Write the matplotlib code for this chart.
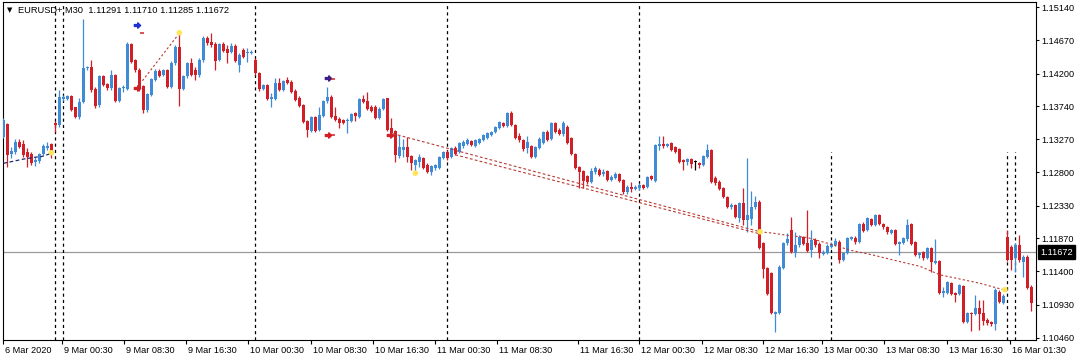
import numpy as np
import matplotlib.pyplot as plt
from matplotlib.path import Path
from matplotlib.transforms import ScaledTranslation

plt.rcParams['font.family'] = ['Liberation Sans', 'DejaVu Sans']

# EURUSD M30 bars (bar 0 = 6 Mar afternoon)
opens = [
    1.1330, 1.1349, 1.1306, 1.1309, 1.1323, 1.1320, 1.1309, 1.1306, 1.1295, 1.1296,
    1.1306, 1.1315, 1.1320, 1.1350, 1.1347, 1.1384, 1.1384, 1.1388, 1.1373, 1.1359,
    1.1380, 1.1428, 1.1429, 1.1398, 1.1376, 1.1417, 1.1405, 1.1400, 1.1418, 1.1381,
    1.1400, 1.1398, 1.1462, 1.1439, 1.1425, 1.1403, 1.1368, 1.1390, 1.1411, 1.1424,
    1.1418, 1.1425, 1.1401, 1.1435, 1.1458, 1.1398, 1.1417, 1.1435, 1.1425, 1.1418,
    1.1439, 1.1470, 1.1465, 1.1462, 1.1439, 1.1462, 1.1455, 1.1451, 1.1459, 1.1432,
    1.1453, 1.1449, 1.1449, 1.1439, 1.1421, 1.1398, 1.1404, 1.1384, 1.1384, 1.1407,
    1.1397, 1.1411, 1.1408, 1.1395, 1.1386, 1.1376, 1.1353, 1.1339, 1.1359, 1.1340,
    1.1360, 1.1381, 1.1387, 1.1360, 1.1356, 1.1354, 1.1353, 1.1353, 1.1364, 1.1359,
    1.1384, 1.1381, 1.1373, 1.1373, 1.1357, 1.1370, 1.1386, 1.1343, 1.1339, 1.1303,
    1.1312, 1.1316, 1.1303, 1.1291, 1.1295, 1.1300, 1.1291, 1.1281, 1.1286, 1.1286,
    1.1300, 1.1309, 1.1302, 1.1315, 1.1309, 1.1317, 1.1320, 1.1325, 1.1317, 1.1322,
    1.1326, 1.1329, 1.1333, 1.1337, 1.1343, 1.1350, 1.1346, 1.1364, 1.1347, 1.1332,
    1.1326, 1.1315, 1.1317, 1.1302, 1.1315, 1.1322, 1.1337, 1.1327, 1.1350, 1.1340,
    1.1335, 1.1344, 1.1329, 1.1306, 1.1288, 1.1282, 1.1275, 1.1266, 1.1281, 1.1283,
    1.1278, 1.1282, 1.1269, 1.1272, 1.1278, 1.1269, 1.1252, 1.1259, 1.1257, 1.1258,
    1.1262, 1.1259, 1.1275, 1.1268, 1.1317, 1.1320, 1.1317, 1.1322, 1.1316, 1.1313,
    1.1298, 1.1295, 1.1299, 1.1295, 1.1293, 1.1291, 1.1302, 1.1312, 1.1272, 1.1266,
    1.1258, 1.1245, 1.1231, 1.1234, 1.1215, 1.1237, 1.1213, 1.1214, 1.1231, 1.1238,
    1.1180, 1.1145, 1.1138, 1.1080, 1.1081, 1.1145, 1.1180, 1.1199, 1.1166, 1.1177,
    1.1189, 1.1180, 1.1170, 1.1184, 1.1179, 1.1165, 1.1166, 1.1174, 1.1177, 1.1182,
    1.1156, 1.1166, 1.1186, 1.1187, 1.1182, 1.1207, 1.1199, 1.1214, 1.1205, 1.1220,
    1.1207, 1.1203, 1.1194, 1.1199, 1.1179, 1.1180, 1.1186, 1.1207, 1.1182, 1.1163,
    1.1167, 1.1159, 1.1173, 1.1152, 1.1155, 1.1109, 1.1109, 1.1123, 1.1109, 1.1108,
    1.1119, 1.1068, 1.1081, 1.1080, 1.1088, 1.1081, 1.1071, 1.1068, 1.1065, 1.1111,
    1.1095, 1.1189, 1.1174, 1.1159, 1.1177, 1.1153, 1.1160, 1.1118,
]
highs = [
    1.1357, 1.1350, 1.1316, 1.1327, 1.1327, 1.1326, 1.1315, 1.1309, 1.1302, 1.1308,
    1.1320, 1.1323, 1.1322, 1.1353, 1.1397, 1.1390, 1.1390, 1.1390, 1.1373, 1.1386,
    1.1497, 1.1431, 1.1439, 1.1401, 1.1418, 1.1418, 1.1407, 1.1425, 1.1419, 1.1401,
    1.1404, 1.1465, 1.1463, 1.1441, 1.1428, 1.1404, 1.1393, 1.1414, 1.1427, 1.1427,
    1.1427, 1.1427, 1.1438, 1.1460, 1.1479, 1.1418, 1.1436, 1.1442, 1.1429, 1.1442,
    1.1473, 1.1473, 1.1478, 1.1465, 1.1463, 1.1465, 1.1460, 1.1463, 1.1462, 1.1449,
    1.1456, 1.1456, 1.1453, 1.1442, 1.1422, 1.1405, 1.1405, 1.1393, 1.1414, 1.1414,
    1.1411, 1.1415, 1.1411, 1.1398, 1.1388, 1.1377, 1.1354, 1.1360, 1.1360, 1.1373,
    1.1383, 1.1401, 1.1390, 1.1373, 1.1359, 1.1356, 1.1357, 1.1364, 1.1366, 1.1386,
    1.1390, 1.1394, 1.1376, 1.1376, 1.1373, 1.1386, 1.1386, 1.1357, 1.1340, 1.1333,
    1.1327, 1.1330, 1.1305, 1.1299, 1.1306, 1.1302, 1.1293, 1.1291, 1.1292, 1.1303,
    1.1310, 1.1312, 1.1316, 1.1317, 1.1323, 1.1326, 1.1329, 1.1326, 1.1327, 1.1329,
    1.1335, 1.1337, 1.1339, 1.1346, 1.1353, 1.1351, 1.1366, 1.1367, 1.1349, 1.1336,
    1.1327, 1.1332, 1.1319, 1.1317, 1.1330, 1.1339, 1.1340, 1.1351, 1.1351, 1.1343,
    1.1353, 1.1347, 1.1330, 1.1308, 1.1289, 1.1284, 1.1276, 1.1286, 1.1289, 1.1286,
    1.1285, 1.1283, 1.1276, 1.1281, 1.1279, 1.1271, 1.1262, 1.1266, 1.1262, 1.1265,
    1.1264, 1.1275, 1.1276, 1.1320, 1.1332, 1.1332, 1.1322, 1.1323, 1.1317, 1.1315,
    1.1299, 1.1300, 1.1300, 1.1298, 1.1295, 1.1305, 1.1320, 1.1313, 1.1275, 1.1269,
    1.1259, 1.1247, 1.1237, 1.1235, 1.1238, 1.1258, 1.1300, 1.1254, 1.1247, 1.1241,
    1.1182, 1.1146, 1.1139, 1.1084, 1.1149, 1.1182, 1.1194, 1.1217, 1.1196, 1.1191,
    1.1190, 1.1227, 1.1199, 1.1187, 1.1182, 1.1170, 1.1179, 1.1182, 1.1187, 1.1184,
    1.1167, 1.1189, 1.1190, 1.1190, 1.1208, 1.1210, 1.1217, 1.1215, 1.1221, 1.1221,
    1.1208, 1.1204, 1.1200, 1.1200, 1.1183, 1.1189, 1.1214, 1.1208, 1.1183, 1.1167,
    1.1169, 1.1174, 1.1174, 1.1186, 1.1156, 1.1118, 1.1126, 1.1125, 1.1111, 1.1122,
    1.1121, 1.1082, 1.1082, 1.1106, 1.1099, 1.1099, 1.1074, 1.1070, 1.1116, 1.1113,
    1.1108, 1.1199, 1.1177, 1.1180, 1.1191, 1.1163, 1.1163, 1.1121,
]
lows = [
    1.1329, 1.1288, 1.1300, 1.1306, 1.1315, 1.1302, 1.1288, 1.1291, 1.1289, 1.1293,
    1.1305, 1.1312, 1.1300, 1.1337, 1.1344, 1.1381, 1.1383, 1.1367, 1.1357, 1.1356,
    1.1378, 1.1425, 1.1394, 1.1371, 1.1373, 1.1403, 1.1397, 1.1397, 1.1380, 1.1380,
    1.1394, 1.1397, 1.1435, 1.1422, 1.1395, 1.1364, 1.1366, 1.1388, 1.1410, 1.1415,
    1.1417, 1.1400, 1.1400, 1.1432, 1.1374, 1.1397, 1.1414, 1.1417, 1.1411, 1.1415,
    1.1436, 1.1460, 1.1458, 1.1425, 1.1438, 1.1451, 1.1435, 1.1449, 1.1436, 1.1422,
    1.1442, 1.1436, 1.1448, 1.1418, 1.1395, 1.1397, 1.1383, 1.1373, 1.1383, 1.1395,
    1.1395, 1.1405, 1.1393, 1.1381, 1.1373, 1.1350, 1.1330, 1.1337, 1.1337, 1.1339,
    1.1359, 1.1378, 1.1357, 1.1353, 1.1343, 1.1349, 1.1336, 1.1351, 1.1353, 1.1357,
    1.1378, 1.1368, 1.1366, 1.1356, 1.1356, 1.1368, 1.1339, 1.1330, 1.1295, 1.1300,
    1.1302, 1.1295, 1.1284, 1.1279, 1.1288, 1.1285, 1.1279, 1.1276, 1.1283, 1.1285,
    1.1299, 1.1298, 1.1300, 1.1305, 1.1308, 1.1315, 1.1319, 1.1317, 1.1316, 1.1320,
    1.1325, 1.1327, 1.1332, 1.1336, 1.1342, 1.1344, 1.1344, 1.1346, 1.1327, 1.1323,
    1.1310, 1.1308, 1.1300, 1.1300, 1.1313, 1.1320, 1.1325, 1.1326, 1.1336, 1.1333,
    1.1332, 1.1320, 1.1305, 1.1285, 1.1258, 1.1258, 1.1264, 1.1265, 1.1278, 1.1275,
    1.1275, 1.1268, 1.1268, 1.1271, 1.1266, 1.1250, 1.1250, 1.1252, 1.1255, 1.1255,
    1.1257, 1.1258, 1.1269, 1.1266, 1.1312, 1.1315, 1.1316, 1.1310, 1.1308, 1.1293,
    1.1283, 1.1291, 1.1286, 1.1283, 1.1286, 1.1289, 1.1300, 1.1265, 1.1262, 1.1255,
    1.1244, 1.1230, 1.1228, 1.1215, 1.1210, 1.1205, 1.1196, 1.1205, 1.1228, 1.1172,
    1.1131, 1.1106, 1.1080, 1.1054, 1.1080, 1.1143, 1.1177, 1.1166, 1.1160, 1.1174,
    1.1177, 1.1167, 1.1160, 1.1174, 1.1159, 1.1163, 1.1165, 1.1173, 1.1176, 1.1152,
    1.1155, 1.1165, 1.1184, 1.1179, 1.1180, 1.1196, 1.1197, 1.1204, 1.1204, 1.1205,
    1.1200, 1.1193, 1.1193, 1.1177, 1.1163, 1.1179, 1.1183, 1.1177, 1.1162, 1.1159,
    1.1156, 1.1157, 1.1139, 1.1150, 1.1108, 1.1104, 1.1108, 1.1106, 1.1097, 1.1106,
    1.1067, 1.1067, 1.1055, 1.1078, 1.1057, 1.1064, 1.1064, 1.1062, 1.1057, 1.1095,
    1.1094, 1.1155, 1.1142, 1.1139, 1.1153, 1.1132, 1.1115, 1.1084,
]
closes = [
    1.1354, 1.1305, 1.1310, 1.1323, 1.1316, 1.1305, 1.1302, 1.1293, 1.1298, 1.1306,
    1.1317, 1.1317, 1.1306, 1.1347, 1.1387, 1.1387, 1.1388, 1.1368, 1.1359, 1.1380,
    1.1428, 1.1429, 1.1397, 1.1374, 1.1417, 1.1404, 1.1400, 1.1418, 1.1381, 1.1400,
    1.1401, 1.1462, 1.1436, 1.1425, 1.1400, 1.1368, 1.1391, 1.1412, 1.1424, 1.1417,
    1.1425, 1.1401, 1.1435, 1.1458, 1.1398, 1.1417, 1.1435, 1.1418, 1.1418, 1.1439,
    1.1470, 1.1463, 1.1460, 1.1438, 1.1462, 1.1452, 1.1449, 1.1459, 1.1438, 1.1446,
    1.1444, 1.1451, 1.1451, 1.1421, 1.1398, 1.1404, 1.1384, 1.1387, 1.1407, 1.1397,
    1.1410, 1.1407, 1.1394, 1.1383, 1.1374, 1.1351, 1.1340, 1.1359, 1.1339, 1.1361,
    1.1381, 1.1387, 1.1359, 1.1354, 1.1350, 1.1350, 1.1354, 1.1363, 1.1360, 1.1384,
    1.1380, 1.1370, 1.1367, 1.1357, 1.1370, 1.1384, 1.1340, 1.1336, 1.1305, 1.1316,
    1.1316, 1.1302, 1.1293, 1.1298, 1.1302, 1.1286, 1.1281, 1.1289, 1.1291, 1.1302,
    1.1309, 1.1300, 1.1315, 1.1306, 1.1322, 1.1323, 1.1326, 1.1319, 1.1326, 1.1327,
    1.1333, 1.1336, 1.1337, 1.1344, 1.1351, 1.1346, 1.1364, 1.1347, 1.1329, 1.1326,
    1.1313, 1.1323, 1.1302, 1.1316, 1.1327, 1.1337, 1.1326, 1.1350, 1.1337, 1.1335,
    1.1350, 1.1322, 1.1306, 1.1286, 1.1281, 1.1268, 1.1266, 1.1282, 1.1286, 1.1276,
    1.1281, 1.1269, 1.1274, 1.1278, 1.1268, 1.1252, 1.1259, 1.1257, 1.1259, 1.1262,
    1.1258, 1.1274, 1.1271, 1.1319, 1.1320, 1.1317, 1.1320, 1.1312, 1.1309, 1.1295,
    1.1295, 1.1299, 1.1292, 1.1295, 1.1291, 1.1303, 1.1312, 1.1266, 1.1265, 1.1257,
    1.1245, 1.1231, 1.1234, 1.1217, 1.1237, 1.1213, 1.1220, 1.1231, 1.1238, 1.1173,
    1.1143, 1.1108, 1.1081, 1.1082, 1.1146, 1.1180, 1.1186, 1.1167, 1.1177, 1.1189,
    1.1179, 1.1169, 1.1184, 1.1177, 1.1166, 1.1167, 1.1176, 1.1179, 1.1183, 1.1156,
    1.1166, 1.1187, 1.1189, 1.1182, 1.1207, 1.1197, 1.1215, 1.1205, 1.1220, 1.1207,
    1.1203, 1.1196, 1.1199, 1.1179, 1.1182, 1.1187, 1.1205, 1.1179, 1.1163, 1.1166,
    1.1159, 1.1173, 1.1153, 1.1155, 1.1109, 1.1112, 1.1125, 1.1108, 1.1106, 1.1121,
    1.1068, 1.1081, 1.1080, 1.1088, 1.1080, 1.1070, 1.1067, 1.1065, 1.1113, 1.1097,
    1.1105, 1.1156, 1.1156, 1.1177, 1.1156, 1.1160, 1.1116, 1.1095,
]

price_ticks = [1.15140, 1.14670, 1.14200, 1.13740, 1.13270, 1.12800,
               1.12330, 1.11870, 1.11400, 1.10930, 1.10460]
time_labels = ['6 Mar 2020', '9 Mar 00:30', '9 Mar 08:30', '9 Mar 16:30',
               '10 Mar 00:30', '10 Mar 08:30', '10 Mar 16:30', '11 Mar 00:30',
               '11 Mar 08:30', '11 Mar 16:30', '12 Mar 00:30', '12 Mar 08:30',
               '12 Mar 16:30', '13 Mar 00:30', '13 Mar 08:30', '13 Mar 16:30',
               '16 Mar 01:30']
time_ticks = [-0.1, 14.6, 30.2, 45.6, 61.2, 76.9, 92.4, 107.9, 123.5, 143.6,
              158.9, 174.6, 189.9, 204.7, 220.2, 235.9, 251.7]

# period separators (bar index), the last ones only reach part way up
sep_full = [13, 15, 63, 111, 159]
sep_short = [207, 251, 253]
sep_short_top = 1.1309

last_price = 1.11672
header = 'EURUSD+,M30  1.11291 1.11710 1.11285 1.11672'

# indicator objects
swing_dots_x = [12, 44, 103, 189.2, 250.4]
swing_dots_y = [1.1308, 1.1478, 1.1279, 1.1196, 1.1114]
navy_x = [0, 1.7, 5, 8.4, 9.2, 12.5]
navy_y = [1.1293, 1.1295, 1.1299, 1.1302, 1.1302, 1.1308]
up_x = [33.4, 43.4]
up_y = [1.1400, 1.1473]
chan1_x = [97.4, 189.2]
chan1_y = [1.1335, 1.1196]
chan2_x = [113, 189.2]
chan2_y = [1.1305, 1.1193]
tail_x = [189.2, 192.5, 195.9, 200.9, 205.9, 211.7, 217.5, 222.5, 229.2,
          232.1, 234.2, 238.4, 244.2, 250.0]
tail_y = [1.1196, 1.1194, 1.1191, 1.1188, 1.1180, 1.1170, 1.1163, 1.1156,
          1.1147, 1.1140, 1.1135, 1.1130, 1.1123, 1.1114]
buy_x = [33.4, 81.2]
buy_y = [1.1489, 1.1414]
sell_x = [33.4, 81.2, 96.7]
sell_y = [1.1400, 1.1333, 1.1333]
dash_x = [34.6, 82.5, 82.5, 98.0]
dash_y = [1.1478, 1.1413, 1.1333, 1.1332]

BLUE = '#3f8bd8'
RED = '#d21f27'
TREND = '#b83a32'

# small right-pointing arrow used by the signal indicator
arrow = Path([(-1, -0.3), (0.1, -0.3), (0.1, -0.85), (1, 0), (0.1, 0.85),
              (0.1, 0.3), (-1, 0.3), (-1, -0.3)],
             [Path.MOVETO] + [Path.LINETO] * 6 + [Path.CLOSEPOLY])

fig = plt.figure(figsize=(10.81, 3.6), dpi=100)
ax = fig.add_axes([3 / 1081, 20 / 360, 1033 / 1081, 338 / 360])

o = np.array(opens)
c = np.array(closes)
x = np.arange(len(c))
colors = [BLUE if cc > oo else RED if cc < oo else 'black' for oo, cc in zip(o, c)]

ax.vlines(x, lows, highs, colors=colors, lw=0.9, zorder=3)
body = np.maximum(np.abs(c - o), 0.00007)
ax.bar(x, body, 0.75, np.minimum(o, c), color=colors, lw=0, zorder=3)

ymin, ymax = 1.104273, 1.152151
ax.set_xlim(-0.075, 258.18)
ax.set_ylim(ymin, ymax)

# separators and price line
ax.vlines(sep_full, ymin, ymax, colors='black', lw=0.9, linestyles=(0, (2.5, 2.5)), zorder=2)
ax.vlines(sep_short, ymin, sep_short_top, colors='black', lw=0.9, linestyles=(0, (2.5, 2.5)), zorder=2)
ax.axhline(last_price, color='#9a9a9a', lw=0.9, zorder=1)

# indicator lines
ax.plot(navy_x, navy_y, color='#1c2a6e', lw=0.9, ls=(0, (3, 2)), zorder=4)
ax.plot(up_x, up_y, color=TREND, lw=0.8, ls=(0, (2, 2)), zorder=4)
ax.plot(chan1_x, chan1_y, color=TREND, lw=0.8, ls=(0, (2.5, 2)), zorder=4)
ax.plot(chan2_x, chan2_y, color=TREND, lw=0.8, ls=(0, (2.5, 2)), zorder=4)
ax.plot(tail_x, tail_y, color=TREND, lw=0.8, ls=(0, (2, 2)), zorder=4)

ax.scatter(swing_dots_x, swing_dots_y, s=16, color='#ffe55a', edgecolors='none', zorder=6)
ax.plot(buy_x[:1], buy_y[:1], marker=arrow, ls='none', color='#1f2fd0', ms=4.5, zorder=6)
ax.plot(buy_x[1:], buy_y[1:], marker=arrow, ls='none', color='#3b1e86', ms=4.5, zorder=6)
ax.plot(sell_x, sell_y, marker=arrow, ls='none', color='#d21f27', ms=4.5, zorder=6)
ax.plot(dash_x, dash_y, '_', color='#d21f27', ms=3.5, mew=1.1, zorder=6)

# axes look of the terminal
for s in ax.spines.values():
    s.set_color('black')
    s.set_linewidth(0.8)
ax.yaxis.tick_right()
ax.set_yticks(price_ticks, [f'{p:.5f}' for p in price_ticks])
ax.tick_params(axis='y', length=2.5, width=0.8, pad=1.5, labelsize=6.6, colors='black')
ax.set_xticks(time_ticks, time_labels, ha='left')
ax.tick_params(axis='x', length=3, width=0.8, pad=1.5, labelsize=6.6, colors='black')
shift = ScaledTranslation(2 / 100, 0, fig.dpi_scale_trans)
for lab in ax.get_xticklabels():
    lab.set_transform(lab.get_transform() + shift)

ax.text(1.004, last_price, f'{last_price:.5f}', transform=ax.get_yaxis_transform(),
        color='white', fontsize=6.6, va='center', ha='left',
        bbox=dict(boxstyle='square,pad=0.25', fc='black', ec='black'))

fig.text(7 / 1081, 1 - 10 / 360, '\u25bc', fontsize=5, va='center', family='DejaVu Sans')
fig.text(18 / 1081, 1 - 10 / 360, header, fontsize=6.7, va='center')

fig.savefig('out.png', dpi=100)
